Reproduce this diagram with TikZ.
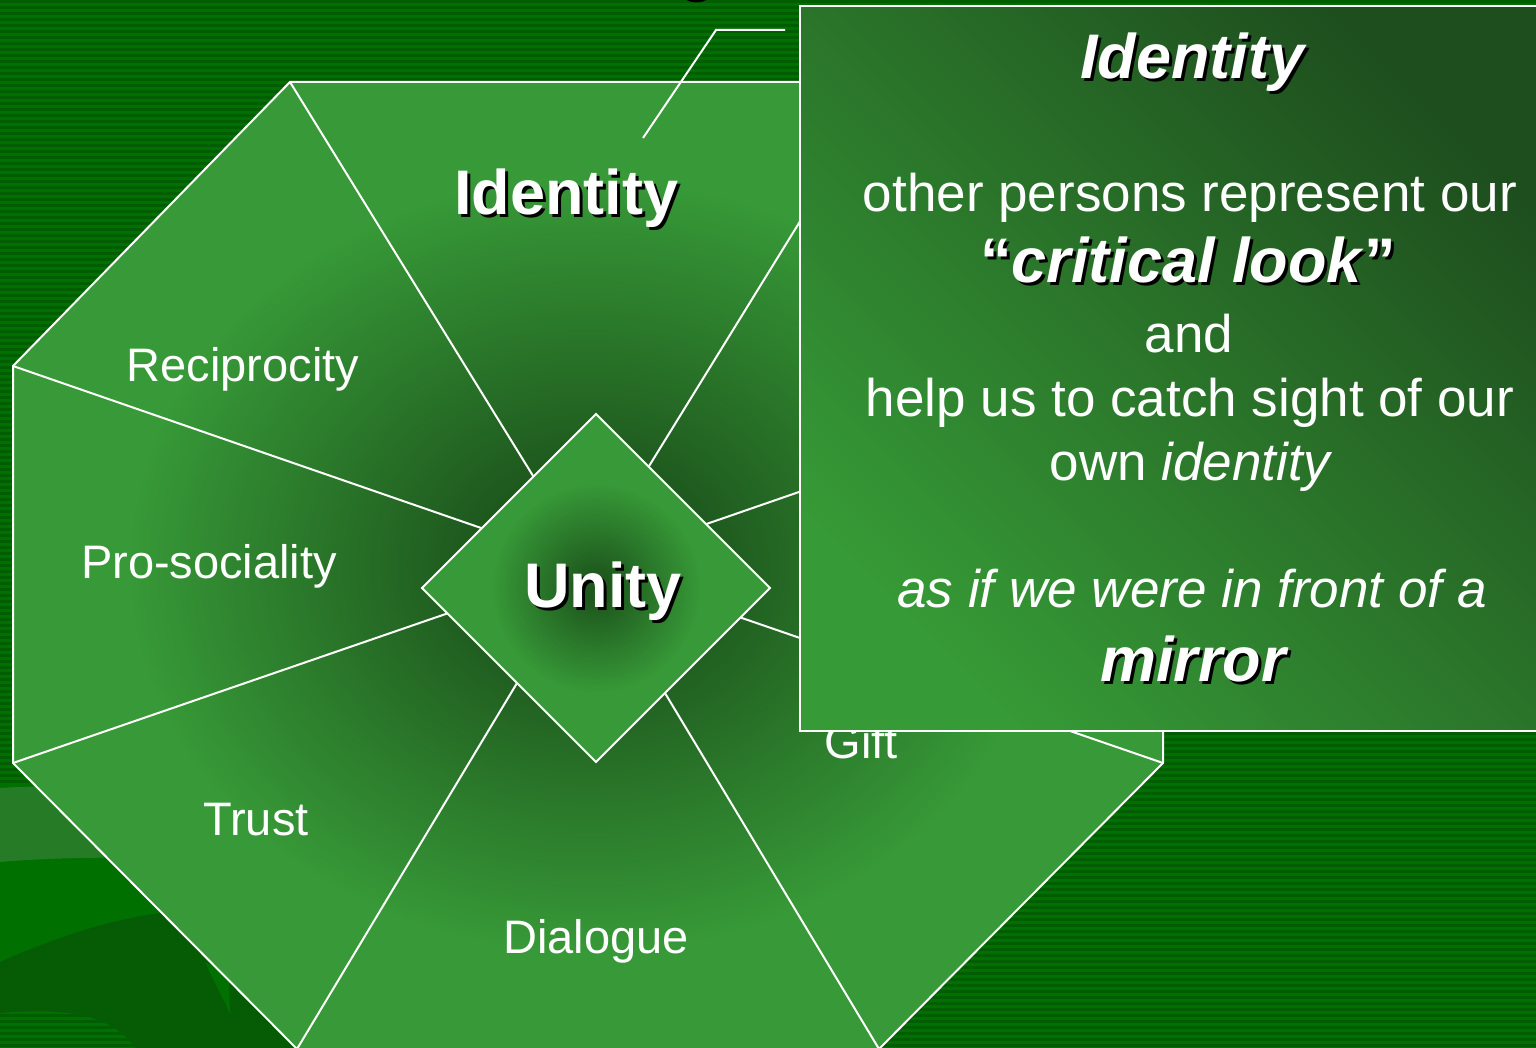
\documentclass[tikz,border=0pt]{standalone}
\usepackage{fontspec}
\setmainfont{Liberation Sans}
\usetikzlibrary{
  positioning, % for relative placement
}
\definecolor{bgBase}{RGB}{0,112,0}
\definecolor{bgStripe}{RGB}{0,94,0}
\definecolor{swirlLight}{RGB}{38,124,38}
\definecolor{swirlDark}{RGB}{5,92,5}
\definecolor{segLight}{RGB}{55,153,55}
\definecolor{segDark}{RGB}{30,88,30}
\definecolor{boxLight}{RGB}{54,154,54}
\definecolor{boxDark}{RGB}{30,78,30}

\pgfdeclareradialshading{octagon glow}{\pgfpoint{0bp}{0bp}}{%
  color(0bp)=(segDark); color(5bp)=(segDark); color(20bp)=(segLight); color(50bp)=(segLight)}
\pgfdeclareradialshading{diamond glow}{\pgfpoint{0bp}{0bp}}{%
  color(0bp)=(segDark); color(2bp)=(segDark); color(15bp)=(segLight); color(50bp)=(segLight)}

\newcommand{\dropshadow}[1]{\rlap{\kern1.5pt\raisebox{-1.5pt}{\color{black}#1}}#1}

\tikzset{
  divider/.style={ % style for the white lines
    white, % drawn in white
    line width=1pt, % a thin line
  },
  seglabel/.style={ % style for the labels of the segments
    text=white,
    font=\fontsize{23.5}{28}\selectfont,
    anchor=base, % placed on their baseline
  },
  keylabel/.style={ % style for the bold labels
    seglabel, % inherit the segment label style
    font=\bfseries\fontsize{31.5}{36}\selectfont,
  },
  boxline/.style={ % style for the text in the callout
    seglabel,
    font=\fontsize{26.5}{32}\selectfont,
  },
  boxkey/.style={ % style for the bold italic words in the callout
    seglabel,
    font=\bfseries\itshape\fontsize{31.5}{36}\selectfont,
  },
}

\begin{document}
\begin{tikzpicture}[x=0.5pt, y=-0.5pt]
	\useasboundingbox (0,0) rectangle (1536,1048);
	\clip (0,0) rectangle (1536,1048);
	
	% striped background
	\fill[bgBase] (0,0) rectangle (1536,1048);
	\foreach \y in {0,6,...,1044}
		\fill[bgStripe] (0,\y) rectangle (1536,\y+3);
	
	% swirls in the lower left corner
	\fill[bgBase] (0,786) -- (400,786) -- (400,1048) -- (0,1048) -- cycle;
	\fill[swirlLight] (0,788) .. controls (60,784) and (150,788) .. (250,800)
		-- (250,860) .. controls (180,858) and (80,855) .. (0,862) -- cycle;
	\fill[swirlDark] (0,962) .. controls (50,940) and (110,918) .. (170,912)
		-- (400,912) -- (400,1048) -- (0,1048) -- cycle;
	\fill[bgBase] (205,962) .. controls (215,985) and (225,1000) .. (230,1015) -- (229,975) -- cycle;
	\begin{scope}
		\clip (0,1013) .. controls (60,1008) and (110,1012) .. (135,1048) -- (0,1048) -- cycle;
		\fill[bgBase] (0,1000) rectangle (140,1048);
		\foreach \y in {1002,1008,...,1044}
			\fill[bgStripe] (0,\y) rectangle (140,\y+3);
	\end{scope}
	
	% the octagon of values
	\coordinate (hub) at (588,565);
	\coordinate (v1) at (290,82);
	\coordinate (v2) at (886,82);
	\coordinate (v3) at (1163,366);
	\coordinate (v4) at (1163,763);
	\coordinate (v5) at (879,1049);
	\coordinate (v6) at (297,1049);
	\coordinate (v7) at (13,763);
	\coordinate (v8) at (13,366);
	
	\shade[shading=octagon glow] (v1) -- (v2) -- (v3) -- (v4) -- (v5) -- (v6) -- (v7) -- (v8) -- cycle;
	\draw[divider] (v1) -- (v2) -- (v3) -- (v4) -- (v5) -- (v6) -- (v7) -- (v8) -- cycle;
	\foreach \v in {1,...,8}
		\draw[divider] (hub) -- (v\v);
	
	\node (identity) [keylabel] at (566,215) {\dropshadow{Identity}};
	\node (reciprocity) [seglabel] at (243,381) {Reciprocity};
	\node (prosocial) [seglabel] at (209,578) {Pro-sociality};
	\node (trust) [seglabel] at (256,835) {Trust};
	\node (dialogue) [seglabel] at (596,953) {Dialogue};
	\node (gift) [seglabel] at (861,758) {Gift};
	
	% the centre
	\shade[shading=diamond glow, draw=white, line width=1pt]
		(596,414) -- (770,588) -- (596,762) -- (422,588) -- cycle;
	\node (unity) [keylabel] at (603,607) {\dropshadow{Unity}};
	
	% the callout
	\shade[left color=boxLight, right color=boxDark, shading angle=135, draw=white, line width=1pt]
		(800,6) rectangle (1548,731);
	
	\node (idtitle) [boxkey] at (1192,79) {\dropshadow{Identity}};
	\node (others) [boxline] at (1190,212) {other persons represent our};
	\node (critical) [keylabel] at (1188,283) {\dropshadow{“\textit{critical look}\/”}};
	\node (andword) [boxline] at (1189,352) {and};
	\node (helpus) [boxline] at (1190,416) {help us to catch sight of our};
	\node (ownid) [boxline] at (1191,480) {own \textit{identity}};
	\node (asif) [boxline, font=\itshape\fontsize{26.5}{32}\selectfont] at (1192,607) {as if we were in front of a};
	\node (mirror) [boxkey] at (1193,681) {\dropshadow{mirror}};
	
	% pointer from the callout to the label
	\coordinate (tail) at (785,30);
	\coordinate (elbow) at (716,30);
	\coordinate (tip) at (643,138);
	\draw[divider] (tail) -- (elbow) -- (tip);
	
	% cut off title above
	\node (titlecut) [keylabel, text=black] at (698,-10) {g};
\end{tikzpicture}
\end{document}
